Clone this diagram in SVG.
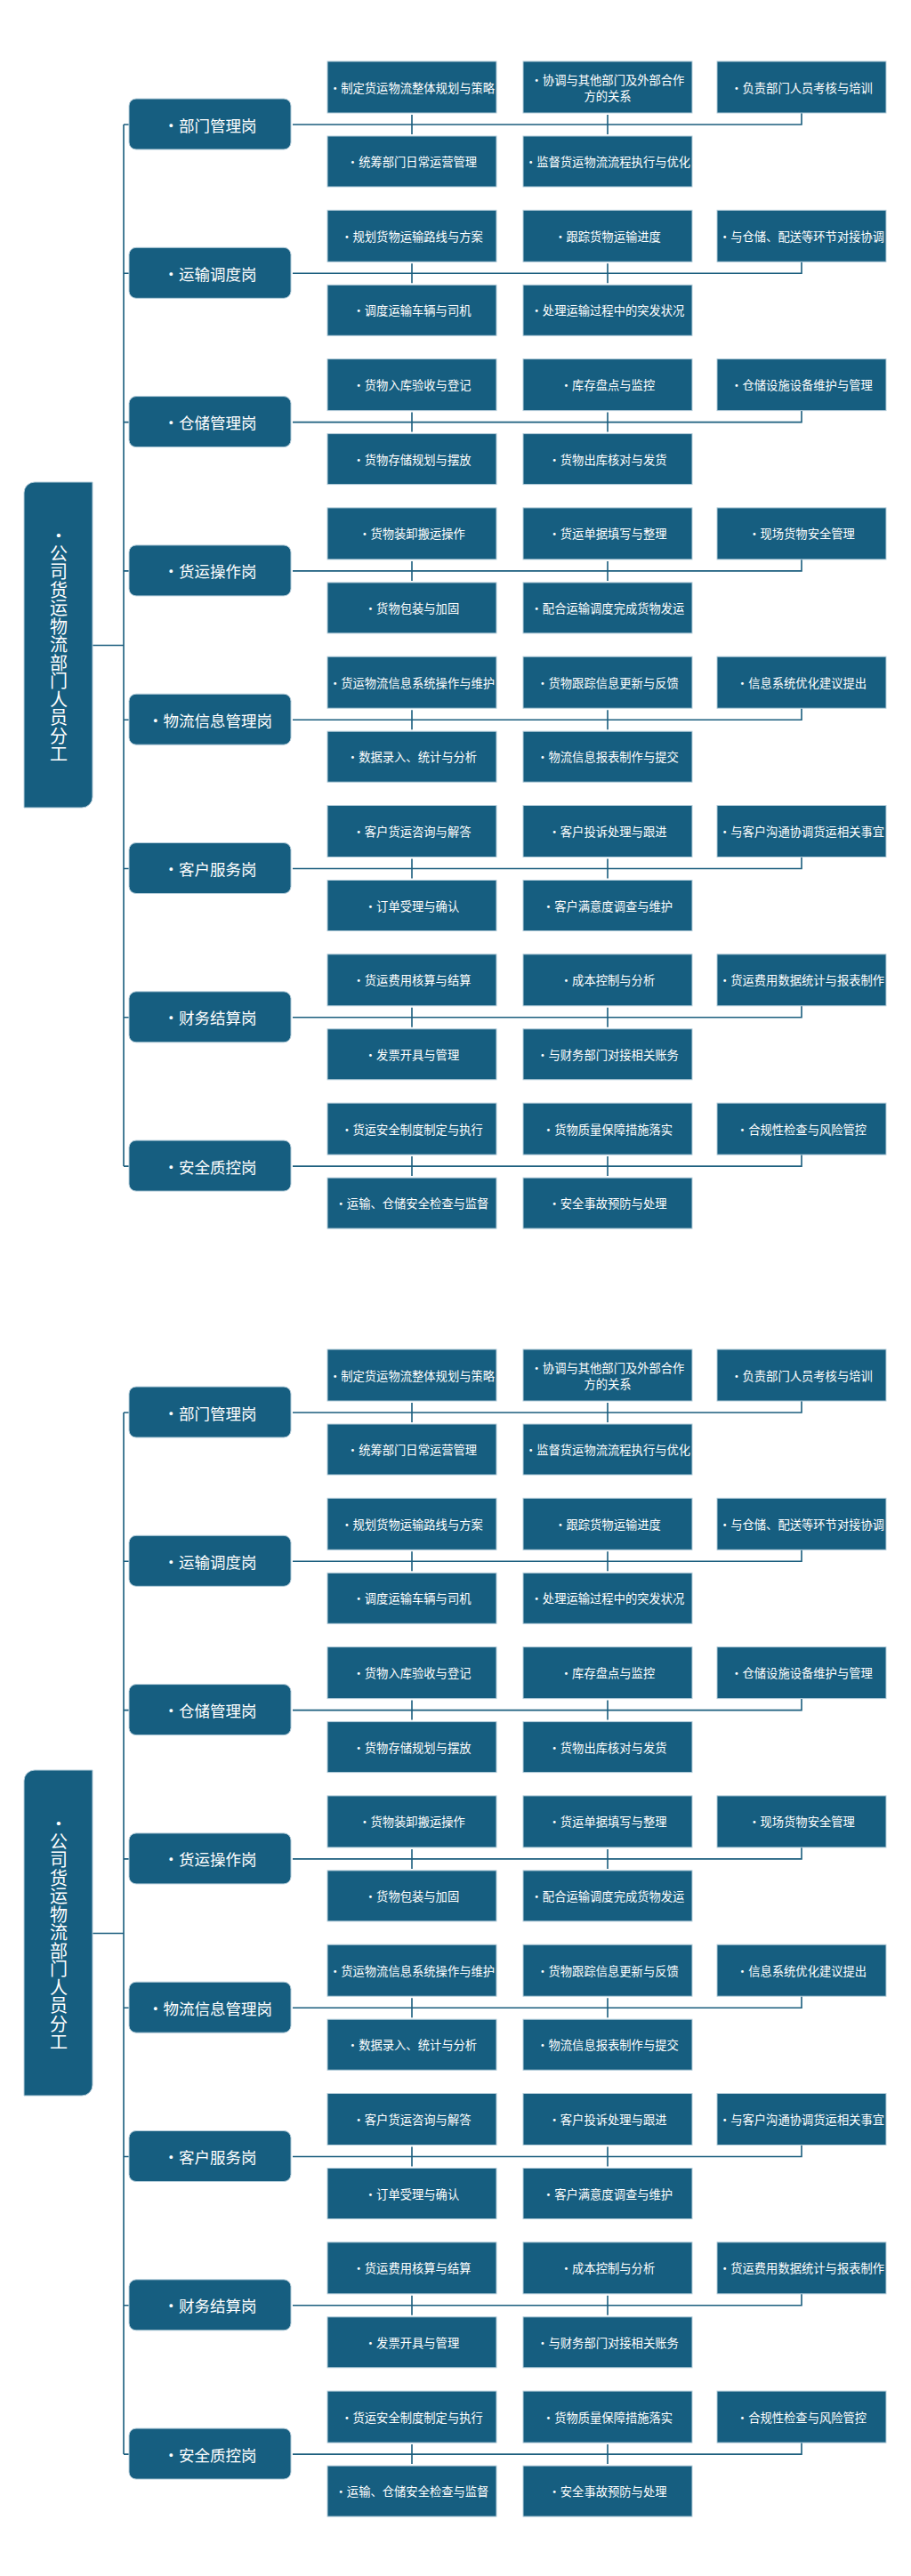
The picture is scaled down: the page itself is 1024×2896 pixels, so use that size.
<svg xmlns="http://www.w3.org/2000/svg" width="1024" height="2896" viewBox="0 0 1024 2896">
<style>
.bx{fill:#165e80;stroke:#b4cdda;stroke-width:1}
.ln{fill:none;stroke:#1b5e7e;stroke-width:1.6}
.t{font-family:"Noto Sans CJK SC","Noto Sans",sans-serif;fill:#ffffff;text-anchor:middle;dominant-baseline:central}
.ts{font-size:13.3px}
.tr{font-size:17.5px}
.tm{font-size:20px;writing-mode:vertical-rl;text-anchor:start;letter-spacing:0.45px}
</style>
<rect width="1024" height="2896" fill="#ffffff"/>
<g id="copy1">
<g id="c1-connectors">
<path class="ln" d="M104,725.5H139M139,140V1311.1"/>
<path class="ln" d="M139,140H145M329,140H901V127M463,129V151M683,129V151"/>
<path class="ln" d="M139,307.3H145M329,307.3H901V294.3M463,296.3V318.3M683,296.3V318.3"/>
<path class="ln" d="M139,474.6H145M329,474.6H901V461.6M463,463.6V485.6M683,463.6V485.6"/>
<path class="ln" d="M139,641.9H145M329,641.9H901V628.9M463,630.9V652.9M683,630.9V652.9"/>
<path class="ln" d="M139,809.2H145M329,809.2H901V796.2M463,798.2V820.2M683,798.2V820.2"/>
<path class="ln" d="M139,976.5H145M329,976.5H901V963.5M463,965.5V987.5M683,965.5V987.5"/>
<path class="ln" d="M139,1143.8H145M329,1143.8H901V1130.8M463,1132.8V1154.8M683,1132.8V1154.8"/>
<path class="ln" d="M139,1311.1H145M329,1311.1H901V1298.1M463,1300.1V1322.1M683,1300.1V1322.1"/>
</g>
<g id="c1-main">
<path class="bx" d="M39,542H104V896A12,12 0 0 1 92,908H27V554A12,12 0 0 1 39,542Z"/>
<text class="t tm" x="66" y="592">•公司货运物流部门人员分工</text>
</g>
<g id="c1-r0">
<rect class="bx" x="145" y="111" width="182" height="57" rx="8"/><text class="t tr" x="236" y="140">•部门管理岗</text>
<rect class="bx" x="368" y="69" width="190" height="58"/><text class="t ts" x="463" y="98">•制定货运物流整体规划与策略</text>
<rect class="bx" x="588" y="69" width="190" height="58"/><text class="t ts" x="683" y="89">•协调与其他部门及外部合作</text><text class="t ts" x="683" y="107">方的关系</text>
<rect class="bx" x="806" y="69" width="190" height="58"/><text class="t ts" x="901" y="98">•负责部门人员考核与培训</text>
<rect class="bx" x="368" y="153" width="190" height="57"/><text class="t ts" x="463" y="181.5">•统筹部门日常运营管理</text>
<rect class="bx" x="588" y="153" width="190" height="57"/><text class="t ts" x="683" y="181.5">•监督货运物流流程执行与优化</text>
</g>
<g id="c1-r1">
<rect class="bx" x="145" y="278.3" width="182" height="57" rx="8"/><text class="t tr" x="236" y="307.3">•运输调度岗</text>
<rect class="bx" x="368" y="236.3" width="190" height="58"/><text class="t ts" x="463" y="265.3">•规划货物运输路线与方案</text>
<rect class="bx" x="588" y="236.3" width="190" height="58"/><text class="t ts" x="683" y="265.3">•跟踪货物运输进度</text>
<rect class="bx" x="806" y="236.3" width="190" height="58"/><text class="t ts" x="901" y="265.3">•与仓储、配送等环节对接协调</text>
<rect class="bx" x="368" y="320.3" width="190" height="57"/><text class="t ts" x="463" y="348.8">•调度运输车辆与司机</text>
<rect class="bx" x="588" y="320.3" width="190" height="57"/><text class="t ts" x="683" y="348.8">•处理运输过程中的突发状况</text>
</g>
<g id="c1-r2">
<rect class="bx" x="145" y="445.6" width="182" height="57" rx="8"/><text class="t tr" x="236" y="474.6">•仓储管理岗</text>
<rect class="bx" x="368" y="403.6" width="190" height="58"/><text class="t ts" x="463" y="432.6">•货物入库验收与登记</text>
<rect class="bx" x="588" y="403.6" width="190" height="58"/><text class="t ts" x="683" y="432.6">•库存盘点与监控</text>
<rect class="bx" x="806" y="403.6" width="190" height="58"/><text class="t ts" x="901" y="432.6">•仓储设施设备维护与管理</text>
<rect class="bx" x="368" y="487.6" width="190" height="57"/><text class="t ts" x="463" y="516.1">•货物存储规划与摆放</text>
<rect class="bx" x="588" y="487.6" width="190" height="57"/><text class="t ts" x="683" y="516.1">•货物出库核对与发货</text>
</g>
<g id="c1-r3">
<rect class="bx" x="145" y="612.9" width="182" height="57" rx="8"/><text class="t tr" x="236" y="641.9">•货运操作岗</text>
<rect class="bx" x="368" y="570.9" width="190" height="58"/><text class="t ts" x="463" y="599.9">•货物装卸搬运操作</text>
<rect class="bx" x="588" y="570.9" width="190" height="58"/><text class="t ts" x="683" y="599.9">•货运单据填写与整理</text>
<rect class="bx" x="806" y="570.9" width="190" height="58"/><text class="t ts" x="901" y="599.9">•现场货物安全管理</text>
<rect class="bx" x="368" y="654.9" width="190" height="57"/><text class="t ts" x="463" y="683.4">•货物包装与加固</text>
<rect class="bx" x="588" y="654.9" width="190" height="57"/><text class="t ts" x="683" y="683.4">•配合运输调度完成货物发运</text>
</g>
<g id="c1-r4">
<rect class="bx" x="145" y="780.2" width="182" height="57" rx="8"/><text class="t tr" x="236" y="809.2">•物流信息管理岗</text>
<rect class="bx" x="368" y="738.2" width="190" height="58"/><text class="t ts" x="463" y="767.2">•货运物流信息系统操作与维护</text>
<rect class="bx" x="588" y="738.2" width="190" height="58"/><text class="t ts" x="683" y="767.2">•货物跟踪信息更新与反馈</text>
<rect class="bx" x="806" y="738.2" width="190" height="58"/><text class="t ts" x="901" y="767.2">•信息系统优化建议提出</text>
<rect class="bx" x="368" y="822.2" width="190" height="57"/><text class="t ts" x="463" y="850.7">•数据录入、统计与分析</text>
<rect class="bx" x="588" y="822.2" width="190" height="57"/><text class="t ts" x="683" y="850.7">•物流信息报表制作与提交</text>
</g>
<g id="c1-r5">
<rect class="bx" x="145" y="947.5" width="182" height="57" rx="8"/><text class="t tr" x="236" y="976.5">•客户服务岗</text>
<rect class="bx" x="368" y="905.5" width="190" height="58"/><text class="t ts" x="463" y="934.5">•客户货运咨询与解答</text>
<rect class="bx" x="588" y="905.5" width="190" height="58"/><text class="t ts" x="683" y="934.5">•客户投诉处理与跟进</text>
<rect class="bx" x="806" y="905.5" width="190" height="58"/><text class="t ts" x="901" y="934.5">•与客户沟通协调货运相关事宜</text>
<rect class="bx" x="368" y="989.5" width="190" height="57"/><text class="t ts" x="463" y="1018">•订单受理与确认</text>
<rect class="bx" x="588" y="989.5" width="190" height="57"/><text class="t ts" x="683" y="1018">•客户满意度调查与维护</text>
</g>
<g id="c1-r6">
<rect class="bx" x="145" y="1114.8" width="182" height="57" rx="8"/><text class="t tr" x="236" y="1143.8">•财务结算岗</text>
<rect class="bx" x="368" y="1072.8" width="190" height="58"/><text class="t ts" x="463" y="1101.8">•货运费用核算与结算</text>
<rect class="bx" x="588" y="1072.8" width="190" height="58"/><text class="t ts" x="683" y="1101.8">•成本控制与分析</text>
<rect class="bx" x="806" y="1072.8" width="190" height="58"/><text class="t ts" x="901" y="1101.8">•货运费用数据统计与报表制作</text>
<rect class="bx" x="368" y="1156.8" width="190" height="57"/><text class="t ts" x="463" y="1185.3">•发票开具与管理</text>
<rect class="bx" x="588" y="1156.8" width="190" height="57"/><text class="t ts" x="683" y="1185.3">•与财务部门对接相关账务</text>
</g>
<g id="c1-r7">
<rect class="bx" x="145" y="1282.1" width="182" height="57" rx="8"/><text class="t tr" x="236" y="1311.1">•安全质控岗</text>
<rect class="bx" x="368" y="1240.1" width="190" height="58"/><text class="t ts" x="463" y="1269.1">•货运安全制度制定与执行</text>
<rect class="bx" x="588" y="1240.1" width="190" height="58"/><text class="t ts" x="683" y="1269.1">•货物质量保障措施落实</text>
<rect class="bx" x="806" y="1240.1" width="190" height="58"/><text class="t ts" x="901" y="1269.1">•合规性检查与风险管控</text>
<rect class="bx" x="368" y="1324.1" width="190" height="57"/><text class="t ts" x="463" y="1352.6">•运输、仓储安全检查与监督</text>
<rect class="bx" x="588" y="1324.1" width="190" height="57"/><text class="t ts" x="683" y="1352.6">•安全事故预防与处理</text>
</g>
</g>
<g id="copy2" transform="translate(0,1448)">
<g id="c2-connectors">
<path class="ln" d="M104,725.5H139M139,140V1311.1"/>
<path class="ln" d="M139,140H145M329,140H901V127M463,129V151M683,129V151"/>
<path class="ln" d="M139,307.3H145M329,307.3H901V294.3M463,296.3V318.3M683,296.3V318.3"/>
<path class="ln" d="M139,474.6H145M329,474.6H901V461.6M463,463.6V485.6M683,463.6V485.6"/>
<path class="ln" d="M139,641.9H145M329,641.9H901V628.9M463,630.9V652.9M683,630.9V652.9"/>
<path class="ln" d="M139,809.2H145M329,809.2H901V796.2M463,798.2V820.2M683,798.2V820.2"/>
<path class="ln" d="M139,976.5H145M329,976.5H901V963.5M463,965.5V987.5M683,965.5V987.5"/>
<path class="ln" d="M139,1143.8H145M329,1143.8H901V1130.8M463,1132.8V1154.8M683,1132.8V1154.8"/>
<path class="ln" d="M139,1311.1H145M329,1311.1H901V1298.1M463,1300.1V1322.1M683,1300.1V1322.1"/>
</g>
<g id="c2-main">
<path class="bx" d="M39,542H104V896A12,12 0 0 1 92,908H27V554A12,12 0 0 1 39,542Z"/>
<text class="t tm" x="66" y="592">•公司货运物流部门人员分工</text>
</g>
<g id="c2-r0">
<rect class="bx" x="145" y="111" width="182" height="57" rx="8"/><text class="t tr" x="236" y="140">•部门管理岗</text>
<rect class="bx" x="368" y="69" width="190" height="58"/><text class="t ts" x="463" y="98">•制定货运物流整体规划与策略</text>
<rect class="bx" x="588" y="69" width="190" height="58"/><text class="t ts" x="683" y="89">•协调与其他部门及外部合作</text><text class="t ts" x="683" y="107">方的关系</text>
<rect class="bx" x="806" y="69" width="190" height="58"/><text class="t ts" x="901" y="98">•负责部门人员考核与培训</text>
<rect class="bx" x="368" y="153" width="190" height="57"/><text class="t ts" x="463" y="181.5">•统筹部门日常运营管理</text>
<rect class="bx" x="588" y="153" width="190" height="57"/><text class="t ts" x="683" y="181.5">•监督货运物流流程执行与优化</text>
</g>
<g id="c2-r1">
<rect class="bx" x="145" y="278.3" width="182" height="57" rx="8"/><text class="t tr" x="236" y="307.3">•运输调度岗</text>
<rect class="bx" x="368" y="236.3" width="190" height="58"/><text class="t ts" x="463" y="265.3">•规划货物运输路线与方案</text>
<rect class="bx" x="588" y="236.3" width="190" height="58"/><text class="t ts" x="683" y="265.3">•跟踪货物运输进度</text>
<rect class="bx" x="806" y="236.3" width="190" height="58"/><text class="t ts" x="901" y="265.3">•与仓储、配送等环节对接协调</text>
<rect class="bx" x="368" y="320.3" width="190" height="57"/><text class="t ts" x="463" y="348.8">•调度运输车辆与司机</text>
<rect class="bx" x="588" y="320.3" width="190" height="57"/><text class="t ts" x="683" y="348.8">•处理运输过程中的突发状况</text>
</g>
<g id="c2-r2">
<rect class="bx" x="145" y="445.6" width="182" height="57" rx="8"/><text class="t tr" x="236" y="474.6">•仓储管理岗</text>
<rect class="bx" x="368" y="403.6" width="190" height="58"/><text class="t ts" x="463" y="432.6">•货物入库验收与登记</text>
<rect class="bx" x="588" y="403.6" width="190" height="58"/><text class="t ts" x="683" y="432.6">•库存盘点与监控</text>
<rect class="bx" x="806" y="403.6" width="190" height="58"/><text class="t ts" x="901" y="432.6">•仓储设施设备维护与管理</text>
<rect class="bx" x="368" y="487.6" width="190" height="57"/><text class="t ts" x="463" y="516.1">•货物存储规划与摆放</text>
<rect class="bx" x="588" y="487.6" width="190" height="57"/><text class="t ts" x="683" y="516.1">•货物出库核对与发货</text>
</g>
<g id="c2-r3">
<rect class="bx" x="145" y="612.9" width="182" height="57" rx="8"/><text class="t tr" x="236" y="641.9">•货运操作岗</text>
<rect class="bx" x="368" y="570.9" width="190" height="58"/><text class="t ts" x="463" y="599.9">•货物装卸搬运操作</text>
<rect class="bx" x="588" y="570.9" width="190" height="58"/><text class="t ts" x="683" y="599.9">•货运单据填写与整理</text>
<rect class="bx" x="806" y="570.9" width="190" height="58"/><text class="t ts" x="901" y="599.9">•现场货物安全管理</text>
<rect class="bx" x="368" y="654.9" width="190" height="57"/><text class="t ts" x="463" y="683.4">•货物包装与加固</text>
<rect class="bx" x="588" y="654.9" width="190" height="57"/><text class="t ts" x="683" y="683.4">•配合运输调度完成货物发运</text>
</g>
<g id="c2-r4">
<rect class="bx" x="145" y="780.2" width="182" height="57" rx="8"/><text class="t tr" x="236" y="809.2">•物流信息管理岗</text>
<rect class="bx" x="368" y="738.2" width="190" height="58"/><text class="t ts" x="463" y="767.2">•货运物流信息系统操作与维护</text>
<rect class="bx" x="588" y="738.2" width="190" height="58"/><text class="t ts" x="683" y="767.2">•货物跟踪信息更新与反馈</text>
<rect class="bx" x="806" y="738.2" width="190" height="58"/><text class="t ts" x="901" y="767.2">•信息系统优化建议提出</text>
<rect class="bx" x="368" y="822.2" width="190" height="57"/><text class="t ts" x="463" y="850.7">•数据录入、统计与分析</text>
<rect class="bx" x="588" y="822.2" width="190" height="57"/><text class="t ts" x="683" y="850.7">•物流信息报表制作与提交</text>
</g>
<g id="c2-r5">
<rect class="bx" x="145" y="947.5" width="182" height="57" rx="8"/><text class="t tr" x="236" y="976.5">•客户服务岗</text>
<rect class="bx" x="368" y="905.5" width="190" height="58"/><text class="t ts" x="463" y="934.5">•客户货运咨询与解答</text>
<rect class="bx" x="588" y="905.5" width="190" height="58"/><text class="t ts" x="683" y="934.5">•客户投诉处理与跟进</text>
<rect class="bx" x="806" y="905.5" width="190" height="58"/><text class="t ts" x="901" y="934.5">•与客户沟通协调货运相关事宜</text>
<rect class="bx" x="368" y="989.5" width="190" height="57"/><text class="t ts" x="463" y="1018">•订单受理与确认</text>
<rect class="bx" x="588" y="989.5" width="190" height="57"/><text class="t ts" x="683" y="1018">•客户满意度调查与维护</text>
</g>
<g id="c2-r6">
<rect class="bx" x="145" y="1114.8" width="182" height="57" rx="8"/><text class="t tr" x="236" y="1143.8">•财务结算岗</text>
<rect class="bx" x="368" y="1072.8" width="190" height="58"/><text class="t ts" x="463" y="1101.8">•货运费用核算与结算</text>
<rect class="bx" x="588" y="1072.8" width="190" height="58"/><text class="t ts" x="683" y="1101.8">•成本控制与分析</text>
<rect class="bx" x="806" y="1072.8" width="190" height="58"/><text class="t ts" x="901" y="1101.8">•货运费用数据统计与报表制作</text>
<rect class="bx" x="368" y="1156.8" width="190" height="57"/><text class="t ts" x="463" y="1185.3">•发票开具与管理</text>
<rect class="bx" x="588" y="1156.8" width="190" height="57"/><text class="t ts" x="683" y="1185.3">•与财务部门对接相关账务</text>
</g>
<g id="c2-r7">
<rect class="bx" x="145" y="1282.1" width="182" height="57" rx="8"/><text class="t tr" x="236" y="1311.1">•安全质控岗</text>
<rect class="bx" x="368" y="1240.1" width="190" height="58"/><text class="t ts" x="463" y="1269.1">•货运安全制度制定与执行</text>
<rect class="bx" x="588" y="1240.1" width="190" height="58"/><text class="t ts" x="683" y="1269.1">•货物质量保障措施落实</text>
<rect class="bx" x="806" y="1240.1" width="190" height="58"/><text class="t ts" x="901" y="1269.1">•合规性检查与风险管控</text>
<rect class="bx" x="368" y="1324.1" width="190" height="57"/><text class="t ts" x="463" y="1352.6">•运输、仓储安全检查与监督</text>
<rect class="bx" x="588" y="1324.1" width="190" height="57"/><text class="t ts" x="683" y="1352.6">•安全事故预防与处理</text>
</g>
</g>
</svg>
